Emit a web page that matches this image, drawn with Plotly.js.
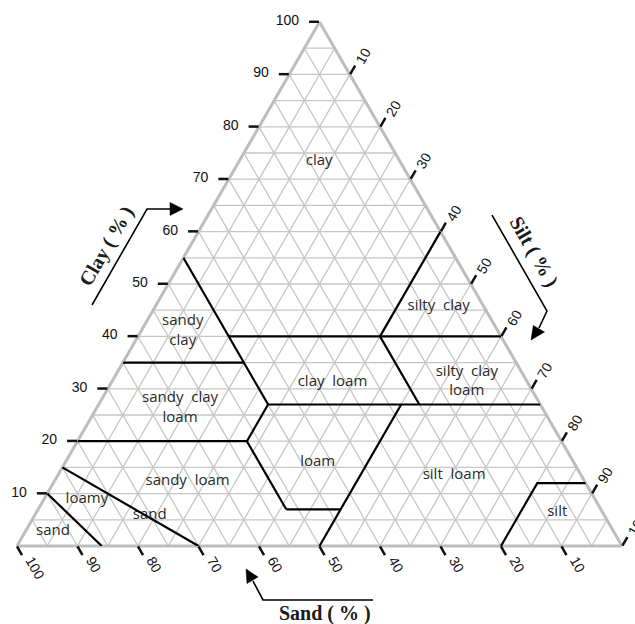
<!DOCTYPE html>
<html>
<head>
<meta charset="utf-8">
<script src="https://cdn.plot.ly/plotly-3.0.1.min.js"></script>
<style>html,body{margin:0;padding:0;background:#fff;}#chart{width:635px;height:624px;}</style>
</head>
<body>
<div id="chart"></div>
<script>
// Boundary segments of the soil texture classes (clay, sand, silt in %), null = break
// fine-textured boundaries
const boundaryClayA = [40, 40, null, 40, 60, null, 55, 27, null, 35, 35, null, 27, 27, null, 40, 27];
const boundarySandA = [45, 0, null, 20, 0, null, 45, 45, null, 65, 45, null, 45, 0, null, 20, 20];
const boundarySiltA = [15, 60, null, 40, 40, null, 0, 28, null, 0, 20, null, 28, 73, null, 40, 53];
// coarse / medium-textured boundaries
const boundaryClayB = [27, 20, null, 20, 20, null, 20, 7, null, 7, 7, null, 27, 0, null, 0, 12, 12, null, 15, 0, null, 10, 0];
const boundarySandB = [45, 52, null, 80, 52, null, 52, 52, null, 52, 43, null, 23, 50, null, 20, 8, 0, null, 85, 70, null, 90, 86];
const boundarySiltB = [28, 28, null, 0, 28, null, 28, 41, null, 41, 50, null, 50, 50, null, 80, 80, 88, null, 0, 30, null, 0, 14];

// Class labels and their positions (clay, sand, silt in %)
const labelText = ['clay', 'silty  clay', 'sandy<br>clay', 'clay  loam', 'silty  clay<br>loam', 'sandy  clay<br>loam', 'loam', 'silt  loam', 'sandy  loam', 'loamy', 'sand', 'sand', 'silt'];
const labelClay = [73.5, 45.8, 41.0, 31.3, 31.3, 26.3, 16.0, 13.5, 12.4, 8.9, 5.9, 2.9, 6.4];
const labelSand = [13.3, 7.4, 52.1, 32.2, 10.0, 59.9, 42.3, 21.0, 65.6, 84.0, 75.1, 92.6, 7.5];
const labelSilt = [13.2, 46.8, 6.9, 36.5, 58.7, 13.8, 41.7, 65.5, 22.0, 7.1, 19.0, 4.5, 86.1];

// Tick values
const gridVals = [0, 5, 10, 15, 20, 25, 30, 35, 40, 45, 50, 55, 60, 65, 70, 75, 80, 85, 90, 95, 100];
const tickVals = [10, 20, 30, 40, 50, 60, 70, 80, 90, 100];
const tickText = ['10', '20', '30', '40', '50', '60', '70', '80', '90', '100'];

const W = 635, H = 624;
// triangle box in pixels (left, right, top, bottom)
const TL = 17, TR = 622, TT = 22, TB = 546;
const px = x => x / W;
const py = y => (H - y) / H;
const path = pts => pts.map((p, i) => (i ? 'L' : 'M') + px(p[0]).toFixed(4) + ',' + py(p[1]).toFixed(4)).join(' ');
const dom = (dx, dy) => ({x: [px(TL + dx), px(TR + dx)], y: [py(TB + dy), py(TT + dy)]});

const noTitle = {text: ''};
const tickFont = {family: 'Liberation Sans, Arial, sans-serif', size: 14, color: '#111'};
const gridAxis = {
  title: noTitle,
  tickmode: 'array', tickvals: gridVals, ticks: '', showticklabels: false,
  showgrid: true, gridcolor: '#c6c6c6', gridwidth: 1.3,
  showline: true, linecolor: '#bdbdbd', linewidth: 3
};
const tickAxis = (angle, show, texts) => ({
  title: noTitle,
  tickmode: 'array', tickvals: tickVals, ticktext: texts,
  ticks: 'outside', ticklen: 10, tickwidth: 2.5, tickcolor: '#111',
  showticklabels: show, tickfont: tickFont, tickangle: angle,
  showgrid: false, showline: false
});
const hiddenAxis = {title: noTitle, ticks: '', showticklabels: false, showgrid: false, showline: false};

const traces = [
  {
    type: 'scatterternary', subplot: 'ternary', mode: 'text',
    a: labelClay, b: labelSand, c: labelSilt, text: labelText,
    textposition: 'middle center',
    textfont: {family: 'Open Sans, sans-serif', size: 15, color: '#2a2a2a'},
    cliponaxis: false, hoverinfo: 'skip', showlegend: false
  },
  {
    type: 'scatterternary', subplot: 'ternary2', mode: 'lines',
    a: boundaryClayA, b: boundarySandA, c: boundarySiltA,
    line: {color: '#000', width: 2.2}, connectgaps: false,
    hoverinfo: 'skip', showlegend: false
  },
  {
    type: 'scatterternary', subplot: 'ternary2', mode: 'lines',
    a: boundaryClayB, b: boundarySandB, c: boundarySiltB,
    line: {color: '#000', width: 2.2}, connectgaps: false,
    hoverinfo: 'skip', showlegend: false
  },
  {
    // anchors the sand-label layer (draws nothing)
    type: 'scatterternary', subplot: 'ternary3', mode: 'none',
    a: [0], b: [100], c: [0], hoverinfo: 'skip', showlegend: false
  }
];

const titleFont = {family: 'Liberation Serif, Times New Roman, serif', size: 20, color: '#1a1a1a'};
const clear = 'rgba(0,0,0,0)';

const layout = {
  width: W, height: H,
  margin: {l: 0, r: 0, t: 0, b: 0},
  paper_bgcolor: '#fff',
  showlegend: false,
  hovermode: false,
  ternary: {
    sum: 100, domain: dom(0, 0), bgcolor: '#fff',
    aaxis: gridAxis, baxis: gridAxis, caxis: gridAxis
  },
  ternary2: {
    sum: 100, domain: dom(0, 0), bgcolor: clear,
    aaxis: tickAxis(0, true, tickText.map(t => t + '  ')),
    baxis: tickAxis(60, false, tickText),
    caxis: tickAxis(-60, true, tickText)
  },
  ternary3: {
    sum: 100, domain: dom(12, 0), bgcolor: clear,
    aaxis: hiddenAxis, caxis: hiddenAxis,
    baxis: {
      title: noTitle, tickmode: 'array', tickvals: tickVals, ticktext: tickText.map(t => ' ' + t),
      ticks: '', showticklabels: true, tickfont: tickFont, tickangle: 60,
      showgrid: false, showline: false
    }
  },
  shapes: [
    {type: 'path', xref: 'paper', yref: 'paper', path: path([[92, 305], [147, 209], [172, 209]]), line: {color: '#000', width: 1.6}},
    {type: 'path', xref: 'paper', yref: 'paper', path: path([[183, 209], [170, 202.5], [170, 215.5]]) + ' Z', fillcolor: '#000', line: {color: '#000', width: 0.5}},
    {type: 'path', xref: 'paper', yref: 'paper', path: path([[492, 215], [547, 311], [539, 328]]), line: {color: '#000', width: 1.6}},
    {type: 'path', xref: 'paper', yref: 'paper', path: path([[531, 340], [544.5, 332], [533.3, 325.5]]) + ' Z', fillcolor: '#000', line: {color: '#000', width: 0.5}},
    {type: 'path', xref: 'paper', yref: 'paper', path: path([[373, 600], [263, 600], [253, 581]]), line: {color: '#000', width: 1.6}},
    {type: 'path', xref: 'paper', yref: 'paper', path: path([[246, 569], [258, 577], [247, 583.5]]) + ' Z', fillcolor: '#000', line: {color: '#000', width: 0.5}}
  ],
  annotations: [
    {xref: 'paper', yref: 'paper', x: px(106), y: py(246), text: '<b>Clay ( % )</b>', textangle: -60, showarrow: false, font: titleFont, xanchor: 'center', yanchor: 'middle'},
    {xref: 'paper', yref: 'paper', x: px(534), y: py(251), text: '<b>Silt ( % )</b>', textangle: 60, showarrow: false, font: titleFont, xanchor: 'center', yanchor: 'middle'},
    {xref: 'paper', yref: 'paper', x: px(325), y: py(613), text: '<b>Sand ( % )</b>', textangle: 0, showarrow: false, font: titleFont, xanchor: 'center', yanchor: 'middle'}
  ]
};

Plotly.newPlot('chart', traces, layout, {displayModeBar: false, staticPlot: true});
</script>
</body>
</html>
